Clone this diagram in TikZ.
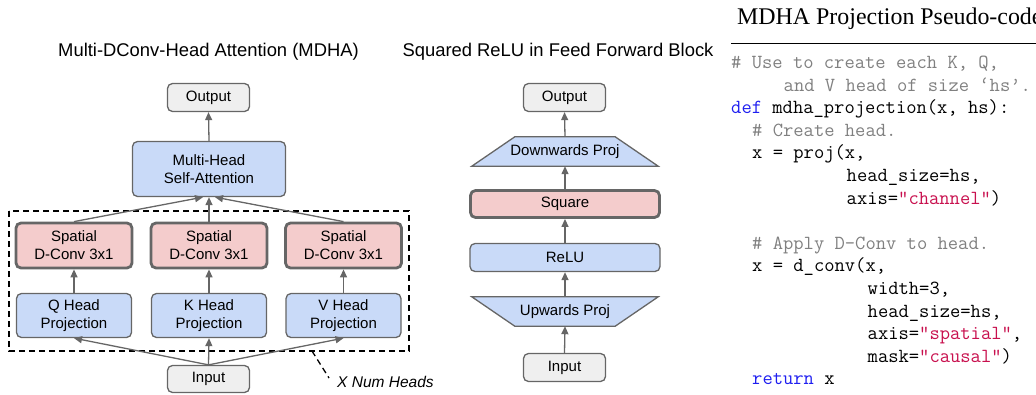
\documentclass[tikz,border=0pt]{standalone}
\usepackage{fontspec}
\setmainfont{Liberation Sans}
\newfontfamily\serifttl{Liberation Serif}
\usetikzlibrary{arrows.meta,backgrounds}
\definecolor{bfill}{HTML}{C9DAF8}
\definecolor{pfill}{HTML}{F4CCCC}
\definecolor{gfill}{HTML}{EFEFEF}
\definecolor{edgec}{HTML}{666666}
\definecolor{cmt}{HTML}{808080}
\definecolor{kw}{RGB}{30,30,240}
\definecolor{strc}{RGB}{200,16,78}
\tikzset{
  box/.style={draw=edgec, line width=1.3pt, rounded corners=5pt, align=center,
    font=\fontsize{15}{18}\selectfont, inner sep=0pt},
  thickbox/.style={box, line width=2.8pt},
  txtonly/.style={align=center, font=\fontsize{15}{18}\selectfont, inner sep=0pt},
  trap/.style={draw=edgec, line width=1.3pt, fill=bfill, line join=miter},
  arr/.style={draw=edgec, line width=1.3pt, -{Triangle[length=8pt,width=7pt]}},
  ttl/.style={font=\fontsize{18.4}{22}\selectfont, inner sep=0pt},
  code/.style={font=\fontsize{20}{22}\ttfamily, inner sep=0pt, anchor=base west},
}
\begin{document}
\begin{tikzpicture}[x=1pt,y=-1pt]
\useasboundingbox (0,0) rectangle (1036,394);
\clip (0,0) rectangle (1036,394);

% ---------- Left: MDHA ----------
\node[ttl] (t1) at (208.5,52) {Multi-DConv-Head Attention (MDHA)};
\node[box, fill=gfill, minimum width=82pt, minimum height=28pt] (out1) at (208.5,97.5) {Output};
\node[box, fill=bfill, minimum width=153pt, minimum height=55pt] (mhsa) at (209,169) {Multi-Head\\Self-Attention};
\draw[dashed, dash pattern=on 6pt off 4pt, line width=1.3pt] (9,211) rectangle (409,351);
\foreach \n/\x/\l in {q/74/Q,k/209/K,v/343.5/V}{
  \node[thickbox, fill=pfill, minimum width=116pt, minimum height=45pt] (\n s) at (\x,245.5) {Spatial\\D-Conv 3x1};
  \node[box, fill=bfill, minimum width=115pt, minimum height=44pt] (\n h) at (\x,315.5) {\l\ Head\\Projection};
}
\node[box, fill=gfill, minimum width=82pt, minimum height=27pt] (in1) at (208.5,379) {Input};
\draw[arr] (in1.north) -- (qh.south);
\draw[arr] (in1.north) -- (kh.south);
\draw[arr] (in1.north) -- (vh.south);
\draw[arr] (qh.north) -- (qs.south);
\draw[arr] (kh.north) -- (ks.south);
\draw[arr] (vh.north) -- (vs.south);
\draw[arr] (qs.north) -- ([xshift=-6pt]mhsa.south);
\draw[arr] (ks.north) -- (mhsa.south);
\draw[arr] (vs.north) -- ([xshift=6pt]mhsa.south);
\draw[arr] (mhsa.north) -- (out1.south);
\coordinate (lead1) at (312,351);
\node[anchor=west, inner sep=0pt, font=\fontsize{15.5}{18}\selectfont\itshape] (xnh) at (337,382) {X Num Heads};
\draw[dashed, dash pattern=on 6pt off 4pt, line width=1.3pt] (lead1) -- (329,378);

% ---------- Middle: Squared ReLU ----------
\node[ttl] (t2) at (558,52) {Squared ReLU in Feed Forward Block};
\node[box, fill=gfill, minimum width=82pt, minimum height=28pt] (out2) at (564.5,97.5) {Output};
\node[txtonly, minimum width=186pt, minimum height=29pt] (dp) at (565,151.5) {Downwards Proj};
\node[thickbox, fill=pfill, minimum width=189pt, minimum height=27pt] (sq) at (565,204) {Square};
\node[box, fill=bfill, minimum width=190pt, minimum height=28pt] (relu) at (565,257.5) {ReLU};
\node[txtonly, minimum width=186pt, minimum height=29pt] (up) at (565,311.5) {Upwards Proj};
\node[box, fill=gfill, minimum width=82pt, minimum height=28pt] (in2) at (564.5,367.5) {Input};
\begin{scope}[on background layer]
  \draw[trap] (dp.south west) -- (dp.south east) -- ([xshift=-43pt]dp.north east) -- ([xshift=43pt]dp.north west) -- cycle;
  \draw[trap] (up.north west) -- (up.north east) -- ([xshift=-43pt]up.south east) -- ([xshift=43pt]up.south west) -- cycle;
\end{scope}
\draw[arr] (in2.north) -- (up.south);
\draw[arr] (up.north) -- (relu.south);
\draw[arr] (relu.north) -- (sq.south);
\draw[arr] (sq.north) -- (dp.south);
\draw[arr] (dp.north) -- (out2.south);

% ---------- Right: pseudo-code ----------
\node[anchor=base west, inner sep=0pt, font=\fontsize{23.9}{26}\serifttl] (t3) at (737,24) {MDHA Projection Pseudo-code};
\draw[line width=1pt] (731,43) -- (1040,43);
\def\ch{10.5}
\node[code, text=cmt] (c0) at (731,68.5) {\# Use to create each K, Q,};
\node[code, text=cmt] (c1) at (731+5*\ch,91.1) {and V head of size ‘hs’.};
\node[code] (c2) at (731,113.7) {\textcolor{kw}{def} mdha\_projection(x, hs):};
\node[code, text=cmt] (c3) at (731+2*\ch,136.3) {\# Create head.};
\node[code] (c4) at (731+2*\ch,158.9) {x = proj(x,};
\node[code] (c5) at (731+11*\ch,181.5) {head\_size=hs,};
\node[code] (c6) at (731+11*\ch,204.1) {axis=\textcolor{strc}{"channel"})};
\node[code, text=cmt] (c8) at (731+2*\ch,249.3) {\# Apply D-Conv to head.};
\node[code] (c9) at (731+2*\ch,271.9) {x = d\_conv(x,};
\node[code] (c10) at (731+13*\ch,294.5) {width=3,};
\node[code] (c11) at (731+13*\ch,317.1) {head\_size=hs,};
\node[code] (c12) at (731+13*\ch,339.7) {axis=\textcolor{strc}{"spatial"},};
\node[code] (c13) at (731+13*\ch,362.3) {mask=\textcolor{strc}{"causal"})};
\node[code] (c14) at (731+2*\ch,384.9) {\textcolor{kw}{return} x};
\end{tikzpicture}
\end{document}
